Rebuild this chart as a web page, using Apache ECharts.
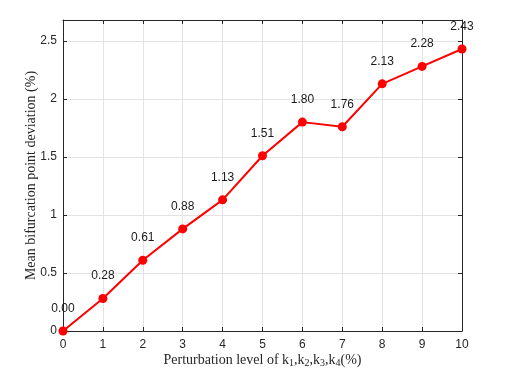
<!DOCTYPE html>
<html>
<head>
<meta charset="utf-8">
<script src="https://cdn.jsdelivr.net/npm/echarts@6/dist/echarts.min.js"></script>
<style>
  html, body { margin: 0; padding: 0; background: #fff; }
  #chart { width: 521px; height: 383px; }
</style>
</head>
<body>
<div id="chart"></div>
<script>
const levels = [0, 1, 2, 3, 4, 5, 6, 7, 8, 9, 10];
const deviation = [0.00, 0.28, 0.61, 0.88, 1.13, 1.51, 1.80, 1.76, 2.13, 2.28, 2.43];

const axisColor = "#262626";
const gridColor = "#e3e3e3";
const tickFont = "Liberation Sans";

const chart = echarts.init(document.getElementById("chart"), null, { renderer: "canvas" });

// MATLAB-like box: inward ticks on every side
const boxAxis = {
  axisLine: { show: true, onZero: false, lineStyle: { color: axisColor, width: 1 } },
  axisTick: { show: true, inside: true, length: 4, lineStyle: { color: axisColor } },
  axisLabel: { show: false },
  splitLine: { show: false },
};

chart.setOption({
  animation: false,
  grid: { left: 63, right: 59, top: 20, bottom: 52 },
  xAxis: [
    {
      type: "value",
      min: 0,
      max: 10,
      interval: 1,
      name: "{t|Perturbation level of k}{s|1}{t|,k}{s|2}{t|,k}{s|3}{t|,k}{s|4}{t|(%)}",
      nameLocation: "middle",
      nameGap: 21,
      nameMoveOverlap: false,
      nameTextStyle: {
        rich: {
          t: { fontFamily: "Liberation Serif", fontSize: 14, color: "#262626" },
          s: { fontFamily: "Liberation Serif", fontSize: 10, color: "#262626", verticalAlign: "bottom", padding: [6, 0, 0, 0] },
        },
      },
      axisLine: { show: true, onZero: false, lineStyle: { color: axisColor } },
      axisTick: { show: true, inside: true, length: 4, lineStyle: { color: axisColor } },
      axisLabel: { color: "#262626", fontFamily: tickFont, fontSize: 12, margin: 8 },
      splitLine: { show: true, lineStyle: { color: gridColor } },
    },
    Object.assign({ type: "value", position: "top", min: 0, max: 10, interval: 1 }, boxAxis),
  ],
  yAxis: [
    {
      type: "value",
      min: 0,
      max: 2.68,
      interval: 0.5,
      name: "Mean bifurcation point deviation (%)",
      nameLocation: "middle",
      nameGap: 25,
      nameMoveOverlap: false,
      nameTextStyle: { fontFamily: "Liberation Serif", fontSize: 14, color: "#262626" },
      axisLine: { show: true, onZero: false, lineStyle: { color: axisColor } },
      axisTick: { show: true, inside: true, length: 4, lineStyle: { color: axisColor } },
      axisLabel: { color: "#262626", fontFamily: tickFont, fontSize: 12, margin: 6, showMaxLabel: false },
      splitLine: { show: true, lineStyle: { color: gridColor } },
    },
    Object.assign({ type: "value", position: "right", min: 0, max: 2.68, interval: 0.5 }, boxAxis),
  ],
  series: [
    {
      type: "line",
      data: levels.map((x, i) => [x, deviation[i]]),
      lineStyle: { color: "#ff0000", width: 2 },
      itemStyle: { color: "#ff0000" },
      symbol: "circle",
      symbolSize: 9,
      label: {
        show: true,
        position: "top",
        distance: 12,
        color: "#1a1a1a",
        fontFamily: tickFont,
        fontSize: 12,
        formatter: (p) => p.value[1].toFixed(2),
      },
      z: 5,
    },
  ],
});
</script>
</body>
</html>
